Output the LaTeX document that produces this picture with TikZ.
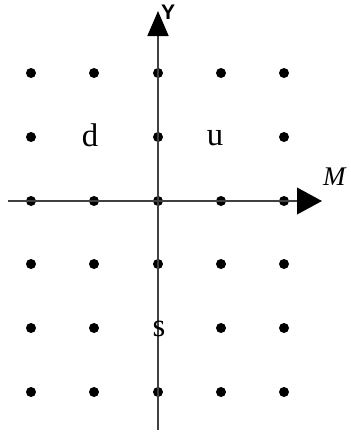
\documentclass[tikz,border=0pt]{standalone}
\usepackage{fontspec}
\setmainfont{Liberation Serif}
\newfontfamily\axisfont{Liberation Sans}
\usetikzlibrary{arrows.meta}
\definecolor{axisgray}{RGB}{64,64,64}
\tikzset{
  quarkdot/.style={circle, fill=black, inner sep=0pt, minimum size=3mm},
  quarklabel/.style={inner sep=0pt, font=\fontsize{28}{32}\selectfont},
  axisline/.style={draw=axisgray, line width=1.5pt, -{Triangle[length=7.5mm, width=#1, color=black]}}
}

\begin{document}
\begin{tikzpicture}[x=0.3mm, y=-0.3mm]
  \useasboundingbox (0,0) rectangle (350,433);

  %% Lattice of states
  \foreach \x in {31,94,158,221,284} \node[quarkdot] (dot-\x-73) at (\x,73) {};
  \foreach \x in {31,158,284} \node[quarkdot] (dot-\x-137) at (\x,137) {};
  \foreach \x in {31,94,158,221,284} \node[quarkdot] (dot-\x-201) at (\x,201) {};
  \foreach \x in {31,94,158,221,284} \node[quarkdot] (dot-\x-264) at (\x,264) {};
  \foreach \x in {31,94,221,284} \node[quarkdot] (dot-\x-328) at (\x,328) {};
  \foreach \x in {31,94,158,221,284} \node[quarkdot] (dot-\x-392) at (\x,392) {};

  %% Axes
  \coordinate (xstart) at (8,201);
  \coordinate (xend) at (322,201);
  \coordinate (ystart) at (158,430);
  \coordinate (yend) at (158,11);
  \draw[axisline=8mm] (xstart) -- (xend);
  \draw[axisline=6.3mm] (ystart) -- (yend);

  %% Quark labels
  \node[quarklabel] (quark-d) at (90,135) {d};
  \node[quarklabel] (quark-u) at (215,138) {u};
  \node[quarklabel] (quark-s) at (159,329) {s};

  %% Axis labels
  \node[inner sep=0pt, anchor=west, font=\fontsize{23}{26}\selectfont\itshape] (mlabel) at (323,177) {M};
  \node[inner sep=0pt, anchor=west, font=\axisfont\bfseries\fontsize{18}{20}\selectfont] (ylabel) at (161,12) {Y};
\end{tikzpicture}
\end{document}
